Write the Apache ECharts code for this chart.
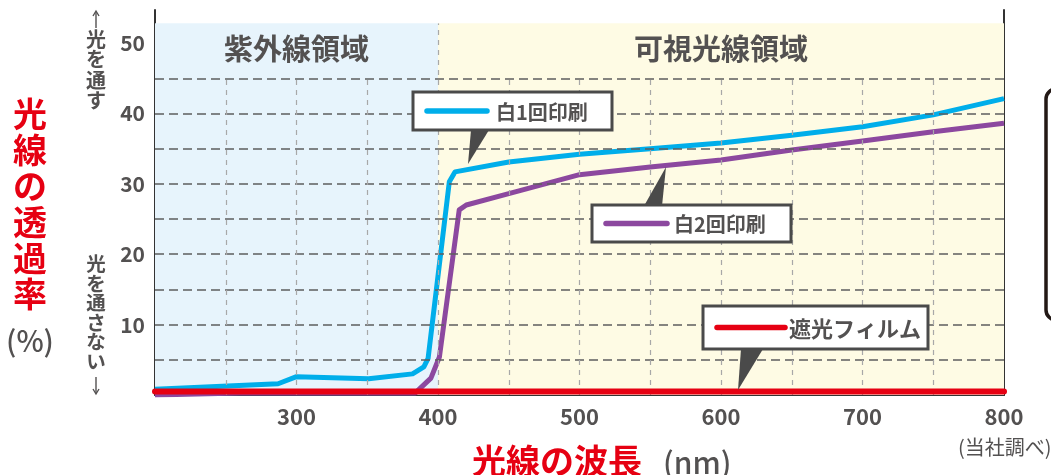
<!DOCTYPE html>
<html><head><meta charset="utf-8">
<script src="https://cdn.jsdelivr.net/npm/echarts@6/dist/echarts.min.js"></script>
<style>html,body{margin:0;padding:0;background:#fff}#c{width:1051px;height:475px}</style>
</head><body><div id="c"></div>
<script>
// ---- data ----
const seriesNames = ['白1回印刷', '白2回印刷', '遮光フィルム'];
const once = [[200,0.8],[287,1.6],[300,2.6],[351,2.3],[382,3.0],[390,4.0],[393,5.2],[408,30.3],[412,31.7],[450,33.1],[500,34.2],[550,35.0],[600,35.8],[650,36.9],[700,38.1],[750,39.8],[800,42.1]];
const twice = [[200,0.0],[260,0.3],[384,0.3],[395,2.4],[401,5.4],[415,26.3],[420,27.0],[450,28.6],[500,31.3],[550,32.4],[600,33.4],[650,34.8],[700,36.1],[750,37.4],[800,38.6]];
const film = [[200,0.5],[800,0.5]];
const regions = [{name:'紫外線領域', from:200, to:400}, {name:'可視光線領域', from:400, to:800}];
const regionTop = 52.8;
const hLines = [5,10,15,20,25,30,35,40,45];
const vLines = [250,300,350,450,500,550,600,650,700,750];
const boundary = 400;
const xTicks = [300,400,500,600,700,800];
const yTicks = [10,20,30,40,50];

const FONT = '"Noto Sans CJK JP", "Noto Sans", sans-serif';
const GRAY = '#535151';
const RED = '#E60012';
const BLUE = '#00AEEA';
const PURPLE = '#8C489F';
const regionColors = ['#E7F4FC', '#FEFBE4'];

const chart = echarts.init(document.getElementById('c'));
const axisLineStyle = {color:'#333', width:2};

const option = {
  animation:false,
  grid:{left:155, right:47, top:10, bottom:80},
  xAxis:{type:'value', min:200, max:800, interval:50,
    axisLine:{show:true, lineStyle:axisLineStyle, onZero:false},
    axisTick:{show:false}, splitLine:{show:false},
    axisLabel:{margin:11, fontFamily:FONT, fontSize:22, fontWeight:'bold', color:GRAY,
      formatter:v=>xTicks.includes(v)?String(v):''}},
  yAxis:[{type:'value', min:0, max:54.7, interval:5,
    axisLine:{show:true, lineStyle:axisLineStyle},
    axisTick:{show:false}, splitLine:{show:false},
    axisLabel:{margin:10, fontFamily:FONT, fontSize:21, fontWeight:'bold', color:GRAY,
      formatter:v=>yTicks.includes(v)?String(v):''}},
    {type:'value', min:0, max:54.7, position:'right',
    axisLine:{show:true, lineStyle:axisLineStyle},
    axisTick:{show:false}, splitLine:{show:false}, axisLabel:{show:false}}],
  series:[
    {type:'line', name:'bg', data:[], z:1, silent:true,
     markArea:{silent:true,
       label:{show:true, position:'insideTop', distance:11, fontFamily:FONT, fontSize:29, fontWeight:'bold', color:GRAY},
       data: regions.map((r,i)=>[{name:r.name, coord:[r.from,0], itemStyle:{color:regionColors[i]}},{coord:[r.to,regionTop]}])},
     markLine:{silent:true, symbol:'none', label:{show:false},
       data: [
         ...hLines.map(v=>({yAxis:v, lineStyle:{color:'#5e5e5e', width:1.5, type:[9,5]}})),
         ...vLines.map(v=>[{coord:[v,0], lineStyle:{color:'#a8a8a8', width:1.2, type:[5,5]}},{coord:[v,45]}]),
         [{coord:[boundary,0], lineStyle:{color:'#a8a8a8', width:1.2, type:[5,5]}},{coord:[boundary,regionTop]}]
       ]}},
    {type:'line', name:seriesNames[0], data:once, z:3, symbol:'none', lineStyle:{color:BLUE, width:5, join:'round'}},
    {type:'line', name:seriesNames[1], data:twice, z:4, symbol:'none', lineStyle:{color:PURPLE, width:5, join:'round'}},
    {type:'line', name:seriesNames[2], data:film, z:5, symbol:'none', lineStyle:{color:RED, width:6, cap:'round'}}
  ],
  graphic:[]
};
chart.setOption(option);

function callout(box, pointer, lineColor, text, fontSize, lineLen, textX){
  const [x,y,w,h] = box;
  return [
    {type:'polygon', z:100, shape:{points:pointer}, style:{fill:'#4a4a4a'}},
    {type:'rect', z:101, shape:{x:x,y:y,width:w,height:h}, style:{fill:'#fff', stroke:'#4a4a4a', lineWidth:3}},
    {type:'line', z:102, shape:{x1:x+14,y1:y+h/2,x2:x+14+lineLen,y2:y+h/2}, style:{stroke:lineColor, lineWidth:5.5, lineCap:'round'}},
    {type:'text', z:102, x:x+textX, y:y+h/2+1, style:{text:text, fontFamily:FONT, fontSize:fontSize, fontWeight:'bold', fill:GRAY, textVerticalAlign:'middle', textAlign:'left'}}
  ];
}
function vtext(str, x, y, size, lh, color, weight){
  return {type:'text', z:100, x:x, y:y, style:{text:str.split('').join('\n'), fontFamily:FONT, fontSize:size, lineHeight:lh, fontWeight:weight, fill:color, textAlign:'center', textVerticalAlign:'top'}};
}
const g = [];
g.push(...callout([413,92,199,38], [[471,130],[489,130],[468,164]], BLUE, seriesNames[0], 20, 60, 83));
g.push(...callout([592,205,199,37], [[644,206],[662,206],[666,167]], PURPLE, seriesNames[1], 20, 61, 82));
g.push(...callout([703,306,225,43], [[741,349],[763,349],[738,390]], RED, seriesNames[2], 22, 68, 86));
// y-axis title
g.push(vtext('光線の透過率', 30, 96, 34, 36, RED, 'bold'));
g.push({type:'text', z:100, x:30, y:341, style:{text:'(%)', fontFamily:FONT, fontSize:29, fontWeight:500, fill:GRAY, textAlign:'center', textVerticalAlign:'middle'}});
// small side notes
g.push(vtext('光を通す', 96, 29, 20, 20.5, GRAY, 'bold'));
g.push(vtext('光を通さない', 96, 254, 19.5, 19.5, GRAY, 'bold'));
g.push({type:'line', z:100, shape:{x1:96,y1:12,x2:96,y2:28}, style:{stroke:GRAY, lineWidth:1.4}});
g.push({type:'polyline', z:100, shape:{points:[[93,16],[96,11],[99,16]]}, style:{stroke:GRAY, lineWidth:1.4, fill:null}});
g.push({type:'line', z:100, shape:{x1:96,y1:377,x2:96,y2:393}, style:{stroke:GRAY, lineWidth:1.4}});
g.push({type:'polyline', z:100, shape:{points:[[93,389],[96,394],[99,389]]}, style:{stroke:GRAY, lineWidth:1.4, fill:null}});
// x-axis title
g.push({type:'text', z:100, x:472, y:461, style:{text:'光線の波長', fontFamily:FONT, fontSize:34, fontWeight:'bold', fill:RED, textVerticalAlign:'middle'}});
g.push({type:'text', z:100, x:663, y:463, style:{text:'(nm)', fontFamily:FONT, fontSize:30, fontWeight:500, fill:GRAY, textVerticalAlign:'middle'}});
g.push({type:'text', z:100, x:958, y:447, style:{text:'(当社調べ)', fontFamily:FONT, fontSize:20, fill:GRAY, textVerticalAlign:'middle'}});
// clipped side panel
g.push({type:'rect', z:100, shape:{x:1046,y:89,width:60,height:231,r:10}, style:{fill:'#fff', stroke:'#231815', lineWidth:3.5}});
chart.setOption({graphic:g});
</script></body></html>
